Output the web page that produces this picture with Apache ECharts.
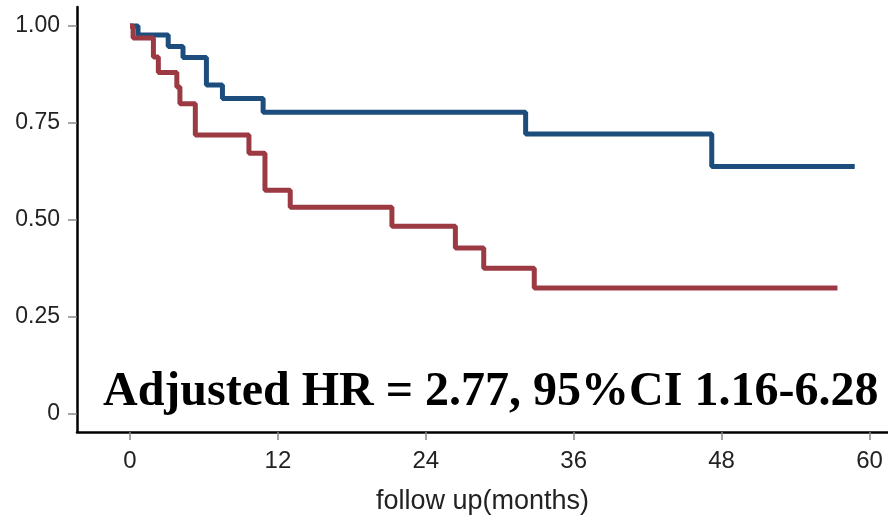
<!DOCTYPE html>
<html><head><meta charset="utf-8">
<script src="https://cdn.jsdelivr.net/npm/echarts@6/dist/echarts.min.js"></script>
<style>html,body{margin:0;padding:0;background:#fff}#c{width:888px;height:515px}</style>
</head><body><div id="c"></div>
<script>
// Kaplan-Meier step data: [month, survival] — value after drop at that time
const blueTimes = [0, 0.65, 3.1, 4.3, 6.2, 7.5, 10.8, 32.1, 47.2, 58.8];
const blueSurv  = [1.0, 0.977, 0.947, 0.919, 0.848, 0.813, 0.778, 0.722, 0.638, 0.638];
const redTimes  = [0, 0.25, 1.9, 2.3, 3.8, 4.05, 5.3, 9.65, 10.95, 13.0, 21.25, 26.4, 28.7, 32.8, 57.4];
const redSurv   = [1.0, 0.969, 0.92, 0.88, 0.843, 0.80, 0.719, 0.672, 0.577, 0.533, 0.484, 0.428, 0.376, 0.325, 0.325];
const xTicks = [0, 12, 24, 36, 48, 60];
const yTicks = [0, 0.25, 0.5, 0.75, 1.0];
const annotation = 'Adjusted HR = 2.77, 95%CI 1.16-6.28';
const xTitle = 'follow up(months)';

const zip = (a, b) => a.map((v, i) => [v, b[i]]);
const chart = echarts.init(document.getElementById('c'), null, {renderer: 'canvas'});
chart.setOption({
  animation: false,
  backgroundColor: '#fff',
  grid: {left: 77, right: 0, top: 7, bottom: 83, containLabel: false, outerBoundsMode: 'none'},
  xAxis: {
    type: 'value', min: -4.3, max: 61.5,
    name: xTitle, nameLocation: 'middle', nameGap: 56,
    nameTextStyle: {fontFamily: 'Liberation Sans, Arial', fontSize: 27, color: '#222'},
    axisLine: {show: true, onZero: false, lineStyle: {color: '#000', width: 2.5}},
    axisTick: {show: true, length: 8, lineStyle: {color: '#888', width: 1.5}, customValues: xTicks},
    axisLabel: {customValues: xTicks, margin: 17, fontFamily: 'Liberation Sans, Arial', fontSize: 24, color: '#222'},
    splitLine: {show: false}
  },
  yAxis: {
    type: 'value', min: -0.046, max: 1.049,
    axisLine: {show: true, onZero: false, lineStyle: {color: '#000', width: 2.5}},
    axisTick: {show: true, length: 9, lineStyle: {color: '#888', width: 1.5}, customValues: yTicks},
    axisLabel: {customValues: yTicks, margin: 17, fontFamily: 'Liberation Sans, Arial', fontSize: 23, color: '#222',
      formatter: v => v === 0 ? '0' : v.toFixed(2)},
    splitLine: {show: false}
  },
  series: [
    {type: 'line', step: 'end', data: zip(blueTimes, blueSurv), showSymbol: false, symbol: 'none',
     lineStyle: {color: '#1c4d7c', width: 5}, z: 2},
    {type: 'line', step: 'end', data: zip(redTimes, redSurv), showSymbol: false, symbol: 'none',
     lineStyle: {color: '#9b3a42', width: 5}, z: 3}
  ],
  graphic: [{
    type: 'text', left: 103, top: 369, z: 10,
    style: {text: annotation, font: 'bold 48px "Liberation Serif", "Times New Roman", serif', fill: '#000'}
  }]
});
</script></body></html>
